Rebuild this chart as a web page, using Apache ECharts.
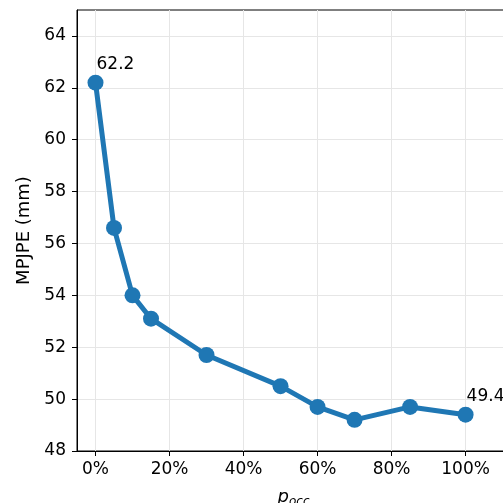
<!DOCTYPE html>
<html>
<head>
<meta charset="utf-8">
<script src="https://cdn.jsdelivr.net/npm/echarts@6/dist/echarts.min.js"></script>
<style>
  html, body { margin: 0; padding: 0; background: #fff; }
  #chart { width: 503px; height: 503px; }
</style>
</head>
<body>
<div id="chart"></div>
<script>
// Occlusion probability (%) vs. MPJPE (mm)
const pOcc = [0, 5, 10, 15, 30, 50, 60, 70, 85, 100];
const mpjpe = [62.2, 56.6, 54.0, 53.1, 51.7, 50.5, 49.7, 49.2, 49.7, 49.4];
const xTicks = [0, 20, 40, 60, 80, 100];
const yTicks = [48, 50, 52, 54, 56, 58, 60, 62, 64];
const labeledIdx = [0, pOcc.length - 1];

const font = 'DejaVu Sans';
const chart = echarts.init(document.getElementById('chart'), null, { renderer: 'canvas' });

const points = pOcc.map((x, i) => ({
  value: [x, mpjpe[i]],
  label: {
    show: labeledIdx.includes(i),
    formatter: mpjpe[i].toFixed(1),
    position: [9, -19],
    align: 'left',
    verticalAlign: 'top',
    fontFamily: font,
    fontSize: 17,
    color: '#000'
  }
}));

chart.setOption({
  animation: false,
  grid: {
    left: 77, top: 10, right: -7, bottom: 52,
    outerBoundsMode: 'none',
    containLabel: false,
    show: true, borderColor: '#000', borderWidth: 1, backgroundColor: 'transparent'
  },
  xAxis: {
    type: 'value',
    min: -5,
    max: 112,
    splitNumber: 5,
    name: '{p|p}{s|occ}',
    nameLocation: 'middle',
    nameGap: 36,
    nameTextStyle: {
      rich: {
        p: { fontFamily: font, fontStyle: 'italic', fontSize: 18, color: '#000' },
        s: { fontFamily: font, fontStyle: 'italic', fontSize: 12, color: '#000', padding: [9, 0, 0, 0] }
      }
    },
    axisLine: { show: true, onZero: false, lineStyle: { color: '#000', width: 1 } },
    axisTick: { show: true, length: 5, lineStyle: { color: '#000' }, customValues: xTicks },
    axisLabel: { fontFamily: font, fontSize: 17, color: '#000', margin: 10, customValues: xTicks, formatter: v => v + '%' },
    splitLine: { show: true, lineStyle: { color: '#e6e6e6', width: 1 } }
  },
  yAxis: {
    type: 'value',
    min: 48,
    max: 65,
    interval: 2,
    name: 'MPJPE (mm)',
    nameLocation: 'middle',
    nameGap: 38,
    nameTextStyle: { fontFamily: font, fontSize: 18, color: '#000' },
    axisLine: { show: true, onZero: false, lineStyle: { color: '#000', width: 1 } },
    axisTick: { show: true, length: 5, lineStyle: { color: '#000' }, customValues: yTicks },
    axisLabel: { fontFamily: font, fontSize: 17, color: '#000', margin: 11, customValues: yTicks },
    splitLine: { show: true, lineStyle: { color: '#e6e6e6', width: 1 } }
  },
  series: [{
    type: 'line',
    data: points,
    symbol: 'circle',
    symbolSize: 16,
    showAllSymbol: true,
    clip: false,
    lineStyle: { color: '#1f77b4', width: 5 },
    itemStyle: { color: '#1f77b4' }
  }]
});
</script>
</body>
</html>
